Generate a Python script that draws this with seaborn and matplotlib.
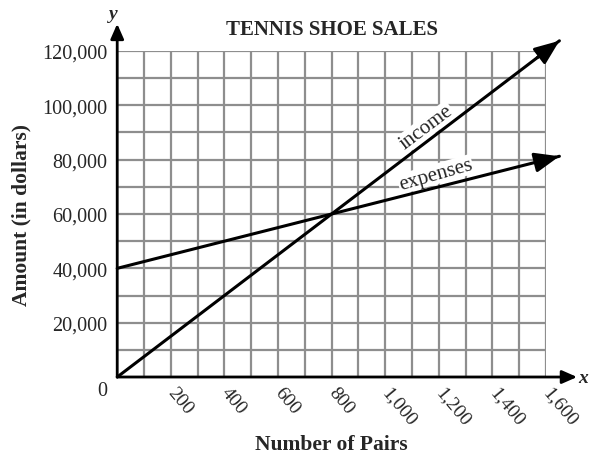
import numpy as np
import pandas as pd
import matplotlib
matplotlib.use('Agg')
import matplotlib.pyplot as plt
import seaborn as sns
from matplotlib.ticker import MultipleLocator

# values
pairs = [0, 1650]
income = [0, 123750]
expenses = [40000, 81250]
x_ticks = [200, 400, 600, 800, 1000, 1200, 1400, 1600]
x_tick_labels = ['200', '400', '600', '800', '1,000', '1,200', '1,400', '1,600']
y_ticks = [20000, 40000, 60000, 80000, 100000, 120000]
y_tick_labels = ['20,000', '40,000', '60,000', '80,000', '100,000', '120,000']

sns.set_style('white')
plt.rcParams['font.family'] = ['Liberation Serif', 'DejaVu Serif']
plt.rcParams['font.size'] = 14.5

df = pd.DataFrame({
    'pairs': pairs + pairs,
    'amount': income + expenses,
    'series': ['income'] * len(pairs) + ['expenses'] * len(pairs),
})

fig = plt.figure(figsize=(5.89, 4.56), dpi=100)
ax = fig.add_axes([0.199, 0.171, 0.728, 0.715])

sns.lineplot(data=df, x='pairs', y='amount', hue='series',
             palette={'income': 'black', 'expenses': 'black'},
             linewidth=2.2, legend=False, ax=ax, clip_on=False, zorder=4)

ax.set_xlim(0, 1600)
ax.set_ylim(0, 120000)
ax.xaxis.set_minor_locator(MultipleLocator(100))
ax.yaxis.set_minor_locator(MultipleLocator(10000))
ax.grid(which='both', color='#8e8e8e', linewidth=1.6)
ax.set_axisbelow(True)
for s in ax.spines.values():
    s.set_visible(False)

ax.set_xticks(x_ticks, x_tick_labels, rotation=-50, ha='left', va='center',
              rotation_mode='anchor', fontsize=14)
ax.set_yticks(y_ticks, y_tick_labels, fontsize=14.5)
ax.tick_params(which='both', length=0)
ax.tick_params(axis='x', pad=9)
ax.tick_params(axis='y', pad=7)
ax.annotate('0', xy=(0, 0), xytext=(-11, -10), textcoords='offset points',
            ha='center', va='center', fontsize=14.5, annotation_clip=False)

ax.set_xlabel('Number of Pairs', fontsize=15.5, fontweight='bold', labelpad=4)
ax.set_ylabel('Amount (in dollars)', fontsize=15.5, fontweight='bold', labelpad=8)
ax.set_title('TENNIS SHOE SALES', fontsize=15, fontweight='bold', pad=12)

# axis arrows
head = dict(arrowstyle='-|>,head_length=0.5,head_width=0.22', color='black',
            lw=2, mutation_scale=18, shrinkA=0, shrinkB=0)
ax.annotate('', xy=(1716, 0), xytext=(0, 0), arrowprops=head,
            annotation_clip=False, zorder=5)
ax.annotate('', xy=(0, 130000), xytext=(0, 0), arrowprops=head,
            annotation_clip=False, zorder=5)
ax.annotate('x', xy=(1716, 0), xytext=(1, 0), textcoords='offset points',
            ha='left', va='center', fontstyle='italic', fontweight='bold',
            fontsize=14, annotation_clip=False)
ax.annotate('y', xy=(0, 130000), xytext=(-3, 1), textcoords='offset points',
            ha='center', va='bottom', fontstyle='italic', fontweight='bold',
            fontsize=14, annotation_clip=False)

# arrowheads at the end of each line
for ys in (income, expenses):
    x0 = pairs[-1] - (pairs[-1] - pairs[0]) * 0.05
    y0 = ys[-1] - (ys[-1] - ys[0]) * 0.05
    ax.annotate('', xy=(pairs[-1], ys[-1]), xytext=(x0, y0),
                arrowprops=dict(arrowstyle='-|>,head_length=0.75,head_width=0.3',
                                color='black', lw=2.2, mutation_scale=20,
                                shrinkA=0, shrinkB=0),
                annotation_clip=False, zorder=5)

# line labels sitting just above each line
box = dict(facecolor='white', edgecolor='none', pad=0.5)
ax.annotate('income', xy=(1180, 1180 * 75), xytext=(-1, 1.5),
            textcoords='offset points', rotation=37, rotation_mode='anchor',
            ha='center', va='bottom', fontsize=15, bbox=box, zorder=3)
ax.annotate('expenses', xy=(1200, 40000 + 1200 * 25), xytext=(-0.5, 2.5),
            textcoords='offset points', rotation=16, rotation_mode='anchor',
            ha='center', va='bottom', fontsize=15, bbox=box, zorder=3)

plt.savefig('out.png', dpi=100)
plt.close()
